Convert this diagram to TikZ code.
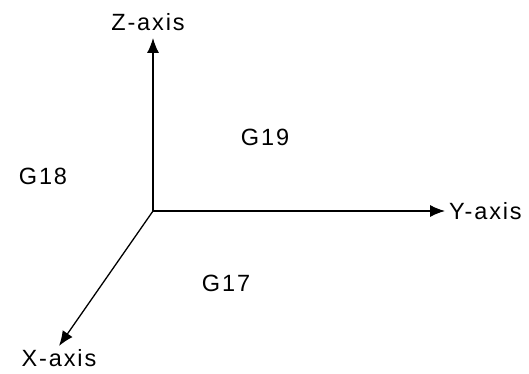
\documentclass[tikz,border=0pt]{standalone}
\usepackage{fontspec}
\newfontfamily\axisfont[LetterSpace=8]{Liberation Sans}
\usetikzlibrary{arrows.meta,positioning}

\begin{document}
\begin{tikzpicture}[
    x=1pt, y=-1pt,
    every node/.style={font={\axisfont\fontsize{23.5}{27}\selectfont}, inner sep=0pt},
    axis/.style={-{Latex[length=15pt,width=12pt]}, line width=1.3pt}
  ]
    \useasboundingbox (0,0) rectangle (529,374);
    \coordinate (origin) at (153,211);
    \coordinate (ztip) at (153,38);
    \coordinate (ytip) at (445,211);
    \coordinate (xtip) at (59,346);

    \draw[axis] (origin) -- (ztip);
    \draw[axis] (origin) -- (ytip);
    \draw[axis] (origin) -- (xtip);

    \node[above=7pt of ztip, xshift=-5pt] (zlabel) {Z-axis};
    \node[right=4pt of ytip] (ylabel) {Y-axis};
    \node[below=3pt of xtip] (xlabel) {X-axis};

    \node at (43,176) (g18) {G18};
    \node at (265,137) (g19) {G19};
    \node at (226,283) (g17) {G17};
  \end{tikzpicture}
\end{document}
